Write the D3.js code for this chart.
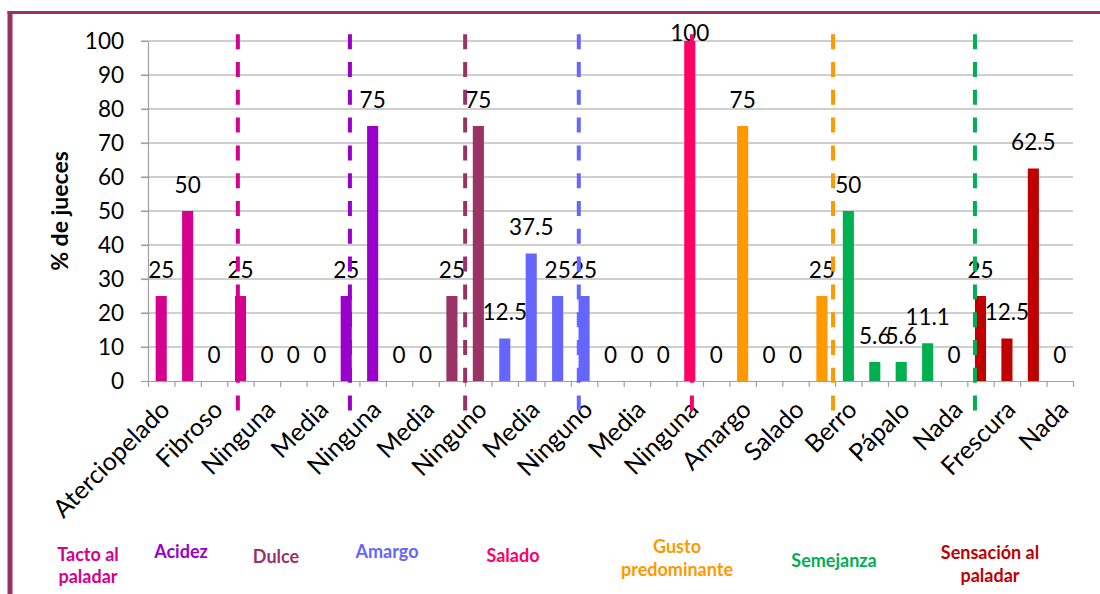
<!DOCTYPE html>
<html><head><meta charset="utf-8">
<script src="https://cdn.jsdelivr.net/npm/d3@7"></script>
<style>body{margin:0;background:#fff} svg{display:block}</style>
</head><body><svg id="c" width="1100" height="594"></svg>
<script>
// ---------- data ----------
const values = [25, 50, 0, 25, 0, 0, 0, 25, 75, 0, 0, 25, 75, 12.5, 37.5, 25, 25, 0, 0, 0, 100, 0, 75, 0, 0, 25, 50, 5.6, 5.6, 11.1, 0, 25, 12.5, 62.5, 0];
const groupOf = [0,0,0,0, 1,1,1,1,1, 2,2,2,2, 3,3,3,3, 4,4,4,4, 5,5,5,5,5, 6,6,6,6,6, 7,7,7,7];
const groupNames = [["Tacto al","paladar"],["Acidez"],["Dulce"],["Amargo"],["Salado"],["Gusto","predominante"],["Semejanza"],["Sensación al","paladar"]];
const tickLabels = ["Aterciopelado","Fibroso","Ninguna","Media","Ninguna","Media","Ninguno","Media","Ninguno","Media","Ninguna","Amargo","Salado","Berro","Pápalo","Nada","Frescura","Nada"];
const labelEvery = 2;
const yTicks = [0,10,20,30,40,50,60,70,80,90,100];
const yTitle = "% de jueces";
const dividerAt = [3.4, 7.64, 12.0, 16.3, 20.58, 25.92, 31.29]; // in category units, one per group boundary

// ---------- layout / style ----------
const groupColors = ["#D6008F","#9900CC","#993366","#6666FF","#FF0066","#FF9900","#00B050","#C00000"];
const groupLabelLayout = [
  {x:88, y:[555,577]}, {x:181, y:[552]}, {x:276, y:[557]}, {x:387, y:[552]},
  {x:513, y:[556]}, {x:677, y:[547,570]}, {x:834, y:[561]}, {x:990, y:[553,576]}
];
const L = 148, R = 1073, T = 41, B = 381;
const FONT = "Lato, 'Open Sans', sans-serif";
const axisGray = "#A0A0A0";

const svg = d3.select("#c");
const n = values.length;
const x = d3.scaleBand().domain(d3.range(n)).range([L, R]).paddingInner(0.58).paddingOuter(0.29);
const xLin = d3.scaleLinear().domain([0, n]).range([L, R]);
const y = d3.scaleLinear().domain([0, 100]).range([B, T]);

// border
svg.append("line").attr("x1", 10).attr("x2", 10).attr("y1", 11).attr("y2", 594).attr("stroke", "#993366").attr("stroke-width", 5);
svg.append("line").attr("x1", 7.5).attr("x2", 1100).attr("y1", 12.5).attr("y2", 12.5).attr("stroke", "#993366").attr("stroke-width", 3);

// gridlines
svg.append("g").selectAll("line").data(yTicks.filter(d => d > 0)).join("line")
  .attr("x1", L - 7).attr("x2", R).attr("y1", d => y(d)).attr("y2", d => y(d))
  .attr("stroke", axisGray).attr("stroke-width", 1.2);

// y axis
const ya = svg.append("g").attr("transform", `translate(${L},0)`)
  .call(d3.axisLeft(y).tickValues(yTicks).tickSize(7).tickSizeOuter(0).tickPadding(17));
ya.selectAll("path,line").attr("stroke", axisGray).attr("stroke-width", 1.2);
ya.selectAll("text").attr("font-family", FONT).attr("font-size", 22.5).attr("fill", "#000");

// x axis (ticks at category boundaries)
const xa = svg.append("g").attr("transform", `translate(0,${B})`)
  .call(d3.axisBottom(xLin).tickValues(d3.range(n + 1)).tickSize(6).tickSizeOuter(0).tickFormat(""));
xa.selectAll("path,line").attr("stroke", axisGray).attr("stroke-width", 1.2);

// bars
svg.append("g").selectAll("rect").data(values).join("rect")
  .attr("x", (d, i) => x(i)).attr("width", x.bandwidth())
  .attr("y", d => y(d)).attr("height", d => y(0) - y(d))
  .attr("fill", (d, i) => groupColors[groupOf[i]]);

// data labels
svg.append("g").selectAll("text").data(values).join("text")
  .attr("x", (d, i) => x(i) + x.bandwidth() / 2)
  .attr("y", d => Math.max(y(d) - 26, 33))
  .attr("dy", "0.35em").attr("text-anchor", "middle")
  .attr("font-family", FONT).attr("font-size", 22.5).attr("fill", "#000")
  .text(d => String(d));

// x tick labels
svg.append("g").selectAll("text").data(tickLabels).join("text")
  .attr("transform", (d, k) => `translate(${x(k * labelEvery) + x.bandwidth() / 2 + 4},${B + 24}) rotate(-45)`)
  .attr("dy", "0.35em").attr("text-anchor", "end")
  .attr("font-family", FONT).attr("font-size", 25).attr("fill", "#000")
  .text(d => d);

// dividers
svg.append("g").selectAll("line").data(dividerAt).join("line")
  .attr("x1", d => xLin(d)).attr("x2", d => xLin(d))
  .attr("y1", y(102)).attr("y2", y(-9))
  .attr("stroke", (d, k) => groupColors[k]).attr("stroke-width", 4)
  .attr("stroke-dasharray", "15,12.8");

// group labels
const gl = svg.append("g").selectAll("text").data(groupNames).join("text")
  .attr("text-anchor", "middle").attr("font-family", FONT).attr("font-weight", "bold")
  .attr("font-size", 18).attr("fill", (d, k) => groupColors[k]);
gl.each(function(d, k) {
  d3.select(this).selectAll("tspan").data(d).join("tspan")
    .attr("x", groupLabelLayout[k].x).attr("y", (t, j) => groupLabelLayout[k].y[j])
    .attr("dy", "0.35em").text(t => t);
});

// y title
svg.append("text").attr("transform", `translate(68,${(T + B) / 2}) rotate(-90)`)
  .attr("text-anchor", "middle").attr("font-family", FONT).attr("font-weight", "bold")
  .attr("font-size", 23).attr("fill", "#000").text(yTitle);
</script></body></html>
